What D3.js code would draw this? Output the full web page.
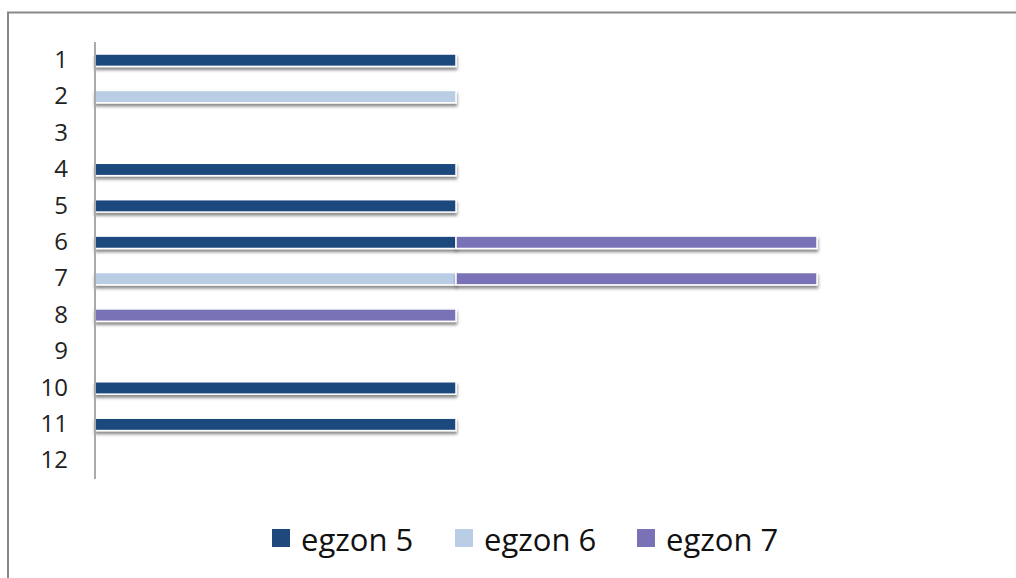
<!DOCTYPE html>
<html>
<head>
<meta charset="utf-8">
<script src="https://cdn.jsdelivr.net/npm/d3@7"></script>
<style>
  html, body { margin: 0; padding: 0; background: #fff; }
  svg { display: block; }
</style>
</head>
<body>
<svg id="chart" width="1016" height="578"></svg>
<script>
const categories = ["1","2","3","4","5","6","7","8","9","10","11","12"];
const seriesNames = ["egzon 5", "egzon 6", "egzon 7"];
const egzon5 = [1,0,0,1,1,1,0,0,0,1,1,0];
const egzon6 = [0,1,0,0,0,0,1,0,0,0,0,0];
const egzon7 = [0,0,0,0,0,1,1,1,0,0,0,0];
const colors = ["#1F497D", "#B9CDE5", "#7A72B6"];

const svg = d3.select("#chart");
const defs = svg.append("defs");
const f = defs.append("filter").attr("id", "shadow")
  .attr("x", "-5%").attr("y", "-50%").attr("width", "110%").attr("height", "250%");
f.append("feDropShadow").attr("dx", 0.5).attr("dy", 3).attr("stdDeviation", 1.7)
  .attr("flood-color", "#000").attr("flood-opacity", 0.45);

// outer frame (cropped at right/bottom)
svg.append("rect").attr("x", 8).attr("y", 12.5).attr("width", 1100).attr("height", 700)
  .attr("fill", "none").attr("stroke", "#888").attr("stroke-width", 2);

const rows = categories.map((c, i) => ({cat: c, "egzon 5": egzon5[i], "egzon 6": egzon6[i], "egzon 7": egzon7[i]}));
const stack = d3.stack().keys(seriesNames)(rows);

const x = d3.scaleLinear().domain([0, 2]).range([95, 817]);
const y = d3.scaleBand().domain(categories).range([42, 479]).paddingInner(0.66).paddingOuter(0.33);

const g = svg.append("g");
stack.forEach((layer, si) => {
  g.selectAll(null).data(layer.filter(d => d[1] > d[0])).enter().append("rect")
    .attr("x", d => x(d[0]))
    .attr("y", d => y(d.data.cat))
    .attr("width", d => x(d[1]) - x(d[0]))
    .attr("height", y.bandwidth())
    .attr("fill", colors[si])
    .attr("stroke", "#fff")
    .attr("stroke-width", 1.5)
    .attr("filter", "url(#shadow)");
});

// y axis
const yAxis = d3.axisLeft(y).tickSize(0).tickPadding(27);
const ax = svg.append("g").attr("transform", "translate(95,0)").call(yAxis);
ax.select(".domain").attr("stroke", "#aaa").attr("stroke-width", 2).attr("d", "M0,42V479");
ax.selectAll("text").attr("font-family", "'Open Sans', sans-serif").attr("font-size", 24)
  .attr("fill", "#222");

// legend
const legendX = [272, 455, 637];
const leg = svg.append("g");
seriesNames.forEach((name, i) => {
  leg.append("rect").attr("x", legendX[i]).attr("y", 529).attr("width", 18).attr("height", 18)
    .attr("fill", colors[i]);
  leg.append("text").attr("x", legendX[i] + 29).attr("y", 551)
    .attr("font-family", "'Open Sans', sans-serif").attr("font-size", 31).attr("fill", "#111")
    .text(name);
});
</script>
</body>
</html>
